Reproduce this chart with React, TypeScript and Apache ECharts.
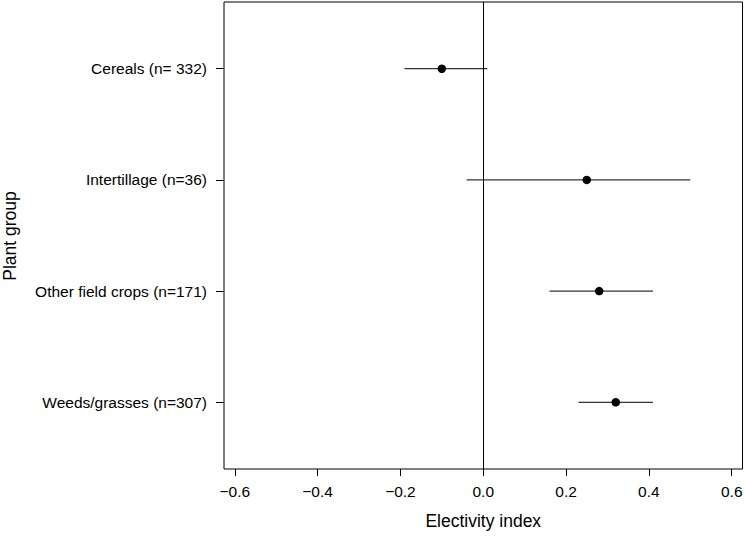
import React, { useEffect, useRef } from "react";
import * as echarts from "echarts";

const categories = ["Cereals (n= 332)", "Intertillage (n=36)", "Other field crops (n=171)", "Weeds/grasses (n=307)"];
const estimates = [-0.10, 0.25, 0.28, 0.32];
const lower = [-0.19, -0.04, 0.16, 0.23];
const upper = [0.01, 0.50, 0.41, 0.41];
const xTicks = [-0.6, -0.4, -0.2, 0.0, 0.2, 0.4, 0.6];
const yPositions = [1, 2, 3, 4];

const FONT = "Liberation Sans, Arial, Helvetica, sans-serif";

export default function App() {
  const ref = useRef<HTMLDivElement>(null);
  useEffect(() => {
    if (!ref.current) return;
    const chart = echarts.init(ref.current, null, { renderer: "svg" });
    const barData = categories.map((_, i) => [lower[i], upper[i], yPositions[i]]);
    const pointData = categories.map((_, i) => [estimates[i], yPositions[i]]);
    chart.setOption({
      animation: false,
      backgroundColor: "#fff",
      grid: {
        left: 224,
        right: 3.5,
        top: 2,
        bottom: 67,
        show: true,
        borderColor: "#000",
        borderWidth: 1,
        backgroundColor: "transparent",
      },
      xAxis: {
        type: "value",
        min: -0.626,
        max: 0.626,
        splitLine: { show: false },
        axisLine: { show: false, onZero: false },
        axisTick: { show: true, length: 7, lineStyle: { color: "#000" }, customValues: xTicks },
        axisLabel: {
          customValues: xTicks,
          margin: 14,
          fontSize: 15.5,
          fontFamily: FONT,
          color: "#000",
          formatter: (v: number) => (v < -1e-9 ? "\u2212" : "") + Math.abs(v).toFixed(1),
        },
        name: "Electivity index",
        nameLocation: "middle",
        nameGap: 43,
        nameTextStyle: { fontSize: 17.5, fontFamily: FONT, color: "#000" },
      },
      yAxis: {
        type: "value",
        min: 0.4,
        max: 4.6,
        inverse: true,
        splitLine: { show: false },
        axisLine: { show: false, onZero: false },
        axisTick: { show: true, length: 8, lineStyle: { color: "#000" }, customValues: yPositions },
        axisLabel: {
          customValues: yPositions,
          margin: 17,
          fontSize: 15.5,
          fontFamily: FONT,
          color: "#000",
          formatter: (v: number) => categories[Math.round(v) - 1] ?? "",
        },
      },
      graphic: [
        {
          type: "text",
          x: 10,
          y: 236,
          rotation: Math.PI / 2,
          style: {
            text: "Plant group",
            fontSize: 17.5,
            fontFamily: FONT,
            fill: "#000",
            textAlign: "center",
            textVerticalAlign: "middle",
          },
        },
      ],
      series: [
        {
          type: "custom",
          data: barData,
          renderItem: (params: any, api: any) => {
            const a = api.coord([api.value(0), api.value(2)]);
            const b = api.coord([api.value(1), api.value(2)]);
            return {
              type: "line",
              shape: { x1: a[0], y1: a[1], x2: b[0], y2: b[1] },
              style: { stroke: "#000", lineWidth: 1 },
            };
          },
          encode: { x: [0, 1], y: 2 },
          z: 2,
        },
        {
          type: "scatter",
          data: pointData,
          symbol: "circle",
          symbolSize: 8.5,
          itemStyle: { color: "#000", opacity: 1 },
          z: 3,
          markLine: {
            silent: true,
            symbol: "none",
            label: { show: false },
            lineStyle: { color: "#000", width: 1, type: "solid" },
            data: [{ xAxis: 0 }],
          },
        },
      ],
    });
    return () => chart.dispose();
  }, []);
  return (
    <div
      ref={ref}
      style={{ position: "fixed", left: 0, top: 0, width: 746, height: 536, background: "#fff" }}
    />
  );
}
